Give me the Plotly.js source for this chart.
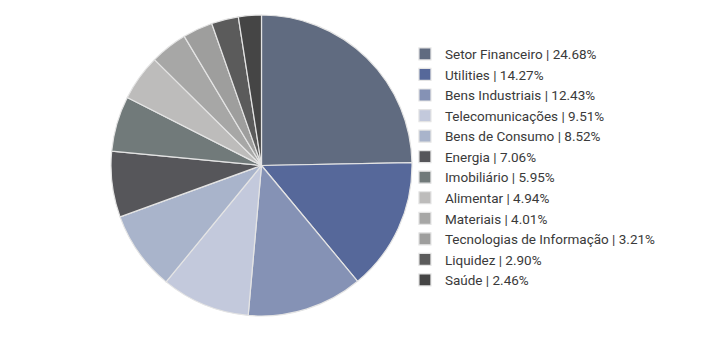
<!DOCTYPE html>
<html>
<head>
<meta charset="utf-8">
<script src="https://cdn.plot.ly/plotly-3.0.1.min.js"></script>
<style>html,body{margin:0;padding:0;background:#fff;}#chart{width:718px;height:361px;}</style>
</head>
<body>
<div id="chart"></div>
<script>
const categories = ["Setor Financeiro","Utilities","Bens Industriais","Telecomunicações","Bens de Consumo","Energia","Imobiliário","Alimentar","Materiais","Tecnologias de Informação","Liquidez","Saúde"];
const shares = [24.68,14.27,12.43,9.51,8.52,7.06,5.95,4.94,4.01,3.21,2.90,2.46];
const colors = ["#606b80","#56689a","#8592b5","#c3c9dc","#a9b4cb","#56565a","#717a7a","#bdbcbb","#a7a7a6","#9e9e9d","#5b5b5b","#454545"];

const labels = categories.map((c,i)=> c + " | " + shares[i].toFixed(2) + "%");

const trace = {
  type: "pie",
  labels: labels,
  values: shares,
  sort: false,
  direction: "clockwise",
  rotation: 0,
  textinfo: "none",
  hoverinfo: "label",
  marker: {colors: colors, line: {color: "#e4e4e4", width: 1.2}},
  domain: {x: [111/718, 412/718], y: [45/361, 346/361]}
};

const layout = {
  width: 718, height: 361,
  margin: {l:0, r:0, t:0, b:0},
  paper_bgcolor: "#fff",
  showlegend: true,
  legend: {
    x: 0.564, y: 0.893, xanchor: "left", yanchor: "top",
    bgcolor: "rgba(0,0,0,0)",
    font: {family: "Roboto, sans-serif", size: 13.5, color: "#3a3a3a"},
    tracegroupgap: 0
  },
  font: {family: "Roboto, sans-serif"}
};

Plotly.newPlot("chart", [trace], layout, {displayModeBar: false, staticPlot: true});
</script>
</body>
</html>
